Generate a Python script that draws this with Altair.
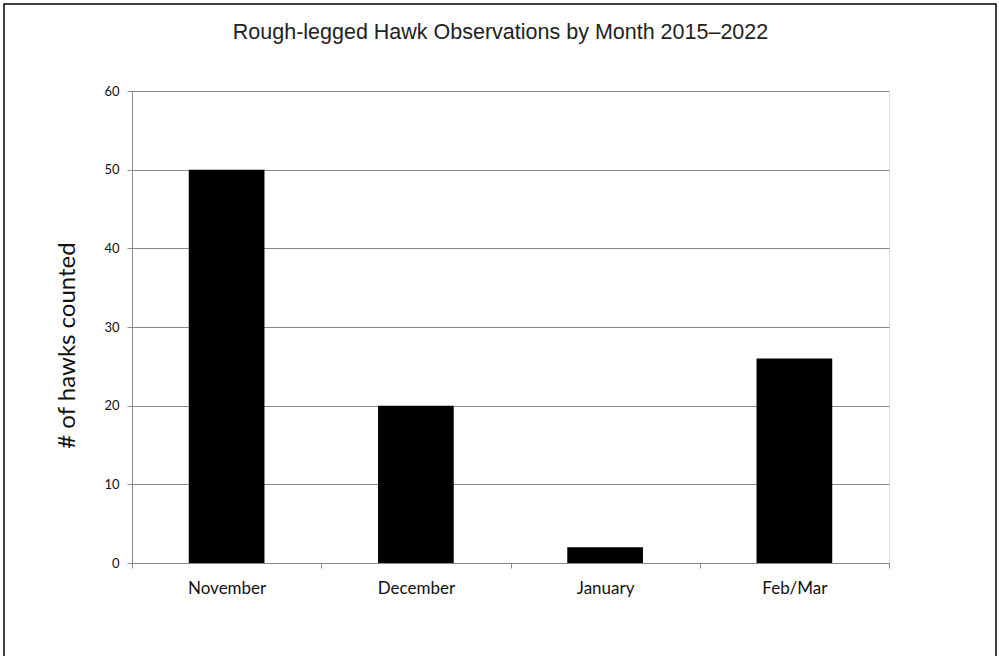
import altair as alt
import pandas as pd

# Rough-legged hawk counts per month, 2015–2022
months = ["November", "December", "January", "Feb/Mar"]
counts = [50, 20, 2, 26]
y_ticks = [0, 10, 20, 30, 40, 50, 60]

df = pd.DataFrame({"month": months, "count": counts})

W, H = 757, 472
GRID = "#8a8a8a"

bars = alt.Chart(df).mark_bar(color="black", width=alt.RelativeBandSize(0.4)).encode(
    x=alt.X(
        "month:N",
        sort=months,
        scale=alt.Scale(paddingInner=0, paddingOuter=0),
        axis=alt.Axis(
            title=None,
            labelAngle=0,
            labelFont="Lato",
            labelFontSize=17,
            labelColor="#111111",
            labelPadding=12,
            labelBaseline="top",
            tickBand="extent",
            tickSize=5,
            tickColor=GRID,
            domainColor=GRID,
            grid=False,
        ),
    ),
    y=alt.Y(
        "count:Q",
        scale=alt.Scale(domain=[0, 60], nice=False),
        axis=alt.Axis(
            title="# of hawks counted",
            values=y_ticks,
            labelFont="Lato",
            labelFontSize=13,
            labelColor="#111111",
            labelPadding=8,
            tickSize=5,
            tickColor=GRID,
            domainColor=GRID,
            gridColor=GRID,
            gridOpacity=1,
            titleFont="Lato",
            titleFontSize=24,
            titleFontWeight="normal",
            titleColor="#111111",
            titleAngle=270,
            titleBaseline="alphabetic",
            titleAlign="center",
            titleX=-58,
            titleY=254,
        ),
    ),
)

# frame around the whole figure
frame = alt.Chart(alt.Data(values=[{}])).mark_rect(
    fill=None, stroke="black", strokeWidth=1.5
).encode(
    x=alt.value(-128), x2=alt.value(864), y=alt.value(-87), y2=alt.value(620)
)

chart = alt.layer(bars, frame).properties(
    width=W,
    height=H,
    autosize=alt.AutoSizeParams(type="none"),
    padding={"left": 132, "top": 91, "right": 110, "bottom": 93},
    title=alt.TitleParams(
        "Rough-legged Hawk Observations by Month 2015–2022",
        font="Liberation Sans",
        fontSize=21.5,
        fontWeight=500,
        color="#222222",
        anchor="middle",
        baseline="alphabetic",
        offset=0,
        dy=57,
        dx=-10,
    ),
).configure_view(stroke=None).configure(background="white")

chart.save("out.html", embed_options={"renderer": "svg", "actions": False})
